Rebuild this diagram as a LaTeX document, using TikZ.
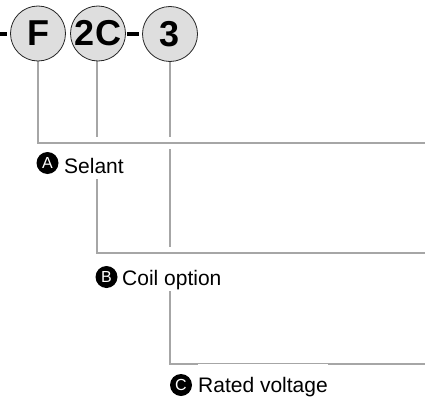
\documentclass[tikz,border=0pt]{standalone}
\usepackage{fontspec}
\setmainfont{Liberation Sans}
\definecolor{codegray}{HTML}{DEDEDE}
\definecolor{linegray}{HTML}{A6A6A6}
\begin{document}
\begin{tikzpicture}[x=1pt,y=-1pt,
  codecirc/.style={circle,draw=black!85,line width=0.8pt,fill=codegray,minimum size=55pt,inner sep=0pt,font=\fontsize{36}{36}\selectfont\bfseries},
  leader/.style={draw=linegray,line width=2pt,preaction={draw=white,line width=12pt}},
  badge/.style={circle,fill=black,text=white,minimum size=22pt,inner sep=0pt,font=\fontsize{16}{16}\selectfont},
  lbl/.style={fill=white,anchor=base west,inner xsep=0pt,inner ysep=0pt,text height=28pt,text depth=6pt,font=\fontsize{21}{21}\selectfont},
  codedash/.style={fill=black}
]
\useasboundingbox (0,0) rectangle (425,396);
% code circles (positions)
\coordinate (pF) at (38,33.5);
\coordinate (p2C) at (98,33.5);
\coordinate (p3) at (170,34);
% free ends
\coordinate (eA) at (425,143);
\coordinate (eB) at (425,253);
\coordinate (eC) at (425,364);
% leader lines (drawn first, circles cover their starts)
\path[leader] (170,61) |- (eC);
\path[leader] (97,61) |- (eB);
\path[leader] (38,61) |- (eA);
% dashes
\fill[codedash] (0,32) rectangle (7,36);
\fill[codedash] (127,32) rectangle (139,36);
% circles
\node[codecirc] (cF) at (pF) {F};
\node[codecirc] (c2C) at (p2C) {2C};
\node[codecirc] (c3) at (p3) {3};
% labels
\node[badge] (bA) at (47.5,163) {A};
\node[lbl] (tA) at (64,173) {Selant};
\node[badge] (bB) at (106.5,277) {B};
\node[lbl] (tB) at (122,285) {Coil option};
\node[badge] (bC) at (181,385) {C};
\node[lbl] (tC) at (198,392) {Rated voltage};
\end{tikzpicture}
\end{document}
